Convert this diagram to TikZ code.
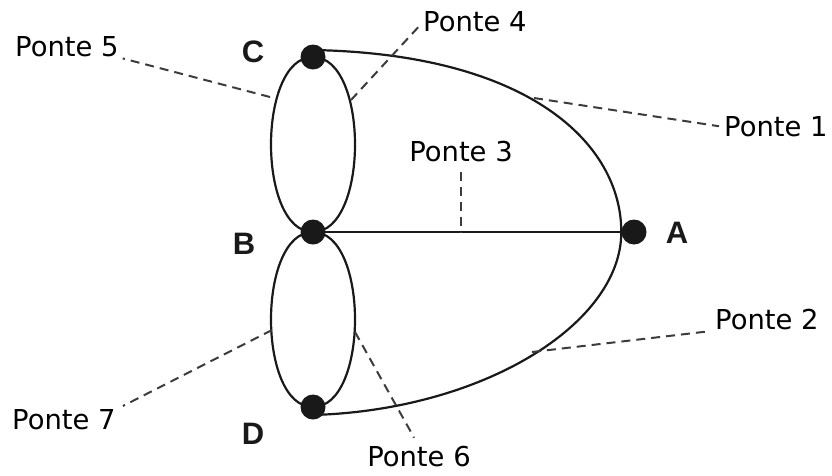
\documentclass[tikz,border=0pt]{standalone}
\usepackage{fontspec}
\setmainfont{DejaVu Sans}
\newfontfamily\vertexfont{Liberation Sans}
\usetikzlibrary{calc}
\definecolor{Ink}{RGB}{25,25,25}
\definecolor{DashGray}{RGB}{60,60,60}
\tikzset{
  vertex/.style={circle,fill=Ink,inner sep=0pt,minimum size=25pt},
  bridge/.style={draw=Ink,line width=2.2pt},
  leader/.style={draw=DashGray,line width=2pt,dash pattern=on 9pt off 6pt},
  tag/.style={inner sep=0pt,font=\fontsize{27.4}{30}\selectfont},
  vname/.style={inner sep=0pt,text=Ink,font=\vertexfont\bfseries\fontsize{31}{34}\selectfont}
}

\begin{document}
\begin{tikzpicture}[x=1pt,y=-1pt]
\useasboundingbox (0,0) rectangle (832,475);
% islands
\node[vertex] (C) at (313,57) {};
\node[vertex] (B) at (313,232) {};
\node[vertex] (D) at (313,407) {};
\node[vertex] (A) at (634,232) {};
\node[vname] (nC) at (253,52) {C};
\node[vname] (nB) at (244,244) {B};
\node[vname] (nD) at (253,434) {D};
\node[vname] (nA) at (677,233) {A};
% bridges
\draw[bridge] ([yshift=7pt]C.center) .. controls +(217,4) and +(0,-88) .. (A.west);
\draw[bridge] (A.west) .. controls +(0,92) and +(170,-5) .. ([yshift=-8pt]D.center);
\draw[bridge] (B.center) -- (A.center);
\draw[bridge] (C.center) .. controls +(-56,0) and +(-56,0) .. (B.center);
\draw[bridge] (C.center) .. controls +(56,0) and +(56,0) .. (B.center);
\draw[bridge] (B.center) .. controls +(-56,0) and +(-56,0) .. (D.center);
\draw[bridge] (B.center) .. controls +(56,0) and +(56,0) .. (D.center);
% bridge names
\node[tag,anchor=west] (l1) at (724,127) {Ponte 1};
\node[tag,anchor=west] (l2) at (715,320) {Ponte 2};
\node[tag] (l3) at (461,152) {Ponte 3};
\node[tag,anchor=west] (l4) at (423,22) {Ponte 4};
\node[tag,anchor=west] (l5) at (15,47) {Ponte 5};
\node[tag] (l6) at (419,457) {Ponte 6};
\node[tag,anchor=west] (l7) at (12,420) {Ponte 7};
% leaders
\coordinate (p1) at (534,98);
\coordinate (p2) at (532,352);
\coordinate (p4) at (351,100);
\coordinate (p5) at (270,97);
\coordinate (p6) at (355,332);
\coordinate (p7) at (272,330);
\draw[leader,shorten >=5pt] (p1) -- (l1.west);
\draw[leader,shorten >=6pt] (p2) -- (l2.south west);
\draw[leader,shorten <=9pt] (l3.south) -- (l3.south |- B);
\draw[leader,shorten >=6pt] (p4) -- (l4.west);
\draw[leader,shorten >=4pt] (p5) -- (l5.south east);
\draw[leader,shorten >=10pt] (p6) -- (l6.north);
\draw[leader,shorten >=8pt] (p7) -- (l7.north east);
\end{tikzpicture}
\end{document}
